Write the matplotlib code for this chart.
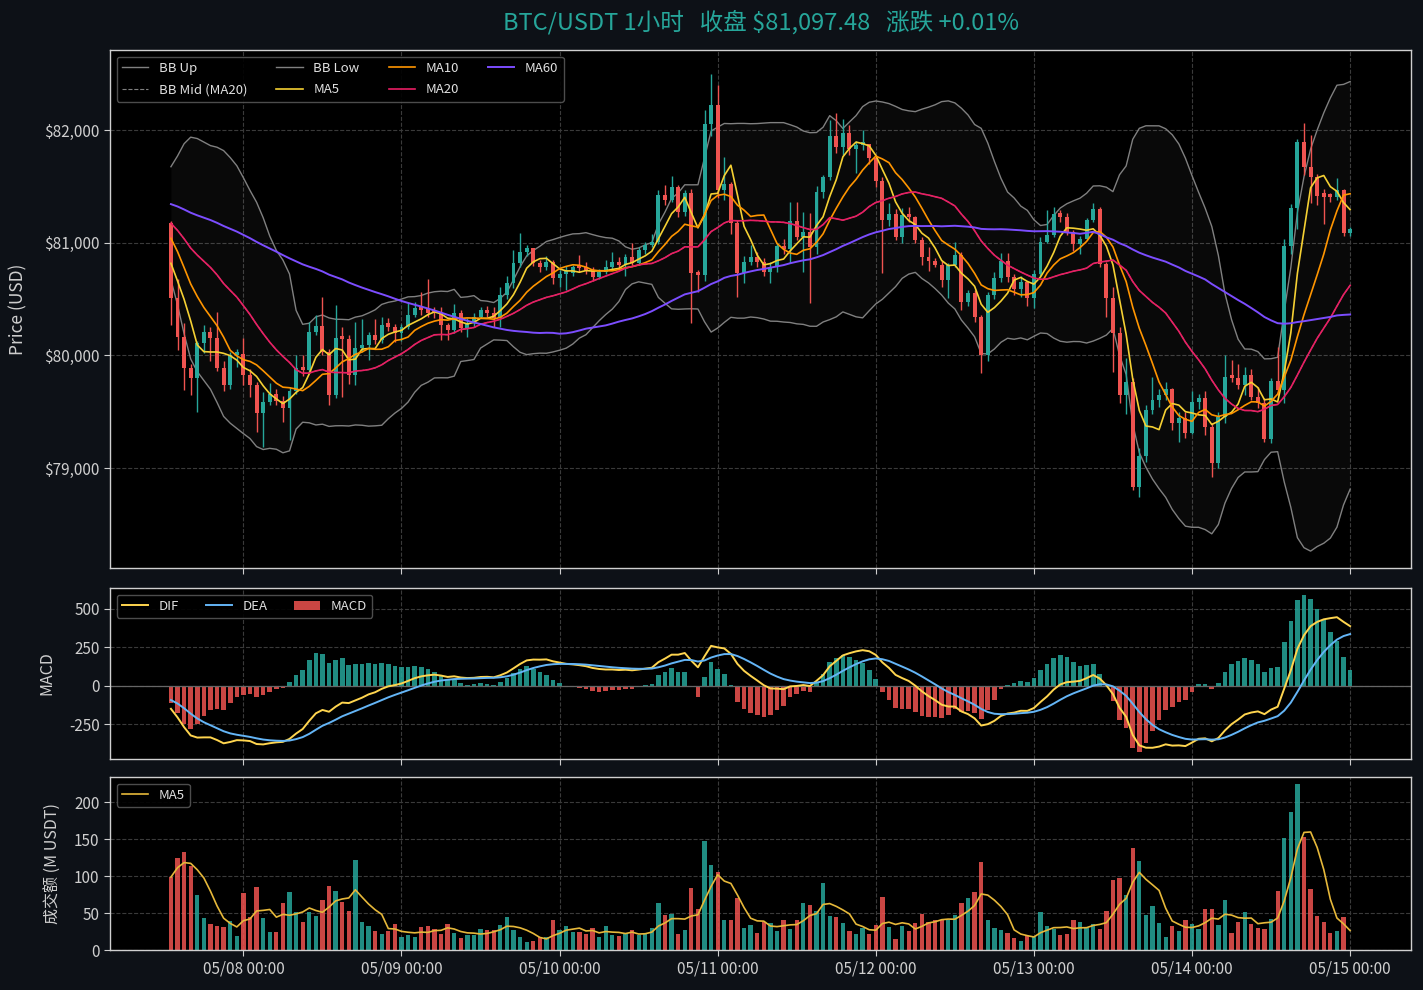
import matplotlib
matplotlib.use("Agg")
import matplotlib.pyplot as plt
import matplotlib.dates as mdates
from matplotlib.ticker import FuncFormatter, MultipleLocator
import numpy as np
import pandas as pd

plt.rcParams['font.family'] = ['Noto Sans CJK SC', 'DejaVu Sans']
plt.rcParams['axes.unicode_minus'] = False

# closes before the first visible candle (only used to warm up MA / BB / MACD)
warmup_close = [81350, 81420, 81480, 81530, 81500, 81460, 81400, 81380, 81420, 81470,
                81520, 81560, 81510, 81450, 81400, 81350, 81320, 81360, 81410, 81460,
                81500, 81470, 81420, 81380, 81350, 81390, 81440, 81480, 81450, 81400,
                81370, 81340, 81380, 81430, 81470, 81440, 81400, 81360, 81390, 81430,
                81400,
                81420, 81380, 81450, 81350, 81300, 81250, 81200, 81280, 81220, 81200,
                81350, 81300, 81250, 81220, 81185,
                80950, 80700, 80756,
                81172]

# 1h candles, 05/07 13:00 -> 05/15 00:00
close = [80506, 80166, 79885, 79797, 80107, 80210, 80150, 79885, 79737, 80003,
         80012, 79826, 79737, 79486, 79589, 79657, 79598, 79530, 79687, 79885,
         79870, 80210, 80261, 80033, 79649, 80151, 80143, 79826, 80063, 80092,
         80181, 80137, 80270, 80255, 80196, 80249, 80358, 80418, 80400, 80380,
         80373, 80270, 80225, 80373, 80240, 80284, 80344, 80403, 80373, 80329,
         80536, 80639, 80817, 80920, 80955, 80817, 80781, 80832, 80684, 80722,
         80728, 80781, 80773, 80758, 80699, 80743, 80781, 80832, 80802, 80876,
         80823, 80935, 80980, 81009, 81423, 81379, 81497, 81275, 81438, 80734,
         80713, 82053, 82222, 81468, 81521, 81172, 80734, 80832, 80876, 80832,
         80743, 80787, 80970, 80941, 81195, 81054, 81098, 80959, 81453, 81586,
         81947, 81852, 81970, 81828, 81867, 81880, 81749, 81550, 81201, 81255,
         81054, 81246, 81225, 81024, 80870, 80840, 80805, 80669, 80802, 80891,
         80477, 80551, 80344, 80003, 80536, 80684, 80841, 80693, 80586, 80654,
         80506, 80722, 81009, 81068, 81255, 81231, 81098, 80990, 81030, 81201,
         81296, 80811, 80506, 80202, 79648, 79767, 78829, 79107, 79515, 79604,
         79648, 79699, 79397, 79442, 79314, 79589, 79619, 79368, 79042, 79456,
         79811, 79796, 79737, 79826, 79634, 79575, 79255, 79776, 79693, 80971,
         81305, 81897, 81675, 81586, 81414, 81408, 81403, 81468, 81089, 81097.48]

high = [81190, 80680, 80285, 79920, 80130, 80270, 80250, 80388, 79950, 80030,
        80060, 80151, 79880, 79760, 79678, 79752, 79700, 79640, 79720, 80003,
        80003, 80300, 80360, 80515, 80060, 80447, 80250, 80180, 80300, 80320,
        80210, 80320, 80340, 80330, 80280, 80280, 80475, 80475, 80560, 80675,
        80430, 80430, 80290, 80460, 80400, 80330, 80380, 80430, 80440, 80430,
        80610, 80700, 80935, 81090, 80980, 80950, 80850, 80880, 80850, 80760,
        80790, 80800, 80890, 80830, 80780, 80770, 80850, 80920, 80870, 80900,
        81000, 80960, 81010, 81080, 81470, 81510, 81590, 81510, 81470, 81480,
        80760, 82180, 82497, 82400, 81760, 81540, 81200, 80880, 80980, 80920,
        80860, 80830, 81000, 81030, 81360, 81360, 81270, 81260, 81500, 81600,
        82090, 82150, 82100, 82040, 81900, 82000, 81870, 81780, 81580, 81350,
        81300, 81310, 81320, 81240, 81050, 80960, 80860, 80840, 80820, 81010,
        80920, 80580, 80580, 80360, 80560, 80740, 80905, 80905, 80720, 80700,
        80660, 80760, 81050, 81290, 81320, 81290, 81260, 81110, 81060, 81220,
        81350, 81320, 80830, 80610, 80250, 79980, 79800, 79180, 79560, 79811,
        79700, 79760, 79710, 79500, 79500, 79680, 79660, 79680, 79400, 79500,
        80004, 79960, 79920, 79900, 79880, 79720, 79620, 79800, 80077, 81030,
        81343, 81918, 82059, 81955, 81610, 81480, 81440, 81570, 81480, 81140]

low = [80270, 80048, 79693, 79650, 79500, 80020, 79950, 79860, 79680, 79700,
       79900, 79737, 79634, 79323, 79190, 79560, 79560, 79412, 79249, 79660,
       79820, 79850, 80180, 80000, 79560, 79620, 79630, 79750, 79740, 80030,
       79960, 80100, 80110, 80220, 80120, 80130, 80230, 80340, 80360, 80340,
       80330, 80140, 80140, 80200, 80210, 80160, 80250, 80330, 80340, 80250,
       80250, 80500, 80600, 80780, 80880, 80790, 80740, 80760, 80630, 80610,
       80580, 80700, 80740, 80720, 80660, 80680, 80720, 80760, 80770, 80700,
       80800, 80800, 80900, 80960, 80990, 81330, 81360, 81230, 81240, 80284,
       80560, 80660, 81950, 81400, 81380, 81080, 80520, 80640, 80800, 80780,
       80700, 80640, 80740, 80900, 80820, 81020, 80740, 80462, 80900, 81400,
       81560, 81800, 81780, 81780, 81620, 81820, 81700, 81490, 80728, 81150,
       81020, 81000, 81180, 81000, 80800, 80750, 80780, 80610, 80510, 80780,
       80400, 80440, 80300, 79841, 79950, 80500, 80650, 80650, 80540, 80520,
       80440, 80420, 80700, 81000, 81050, 81180, 81070, 80930, 80900, 81020,
       81180, 80780, 80340, 79856, 79575, 79480, 78805, 78746, 79050, 79480,
       79540, 79600, 79340, 79234, 79270, 79300, 79520, 79290, 78924, 79000,
       79400, 79760, 79700, 79650, 79600, 79530, 79230, 79220, 79650, 79575,
       80900, 81120, 81600, 81350, 81330, 81170, 81360, 81380, 81060, 81060]

# quote volume, million USDT
volume = [98.6, 124, 132, 114, 74, 43, 35, 32, 31, 39,
          19, 77, 44, 85, 43, 25, 25, 63, 79, 52,
          38, 52, 46, 67, 87, 80, 65, 53, 122, 38,
          33, 26, 22, 26, 35, 17, 20, 18, 31, 33,
          29, 22, 35, 23, 16, 20, 20, 29, 27, 27,
          34, 44, 27, 18, 11, 12, 17, 17, 40, 27,
          33, 24, 24, 21, 30, 17, 33, 20, 19, 22,
          27, 20, 22, 30, 63, 48, 49, 22, 27, 84,
          56, 148, 115, 106, 41, 40, 70, 30, 34, 23,
          38, 37, 26, 40, 29, 40, 63, 61, 53, 91,
          46, 44, 37, 26, 22, 30, 22, 34, 71, 31,
          15, 33, 26, 37, 49, 38, 41, 40, 41, 48,
          64, 70, 78, 119, 40, 30, 27, 23, 16, 12,
          19, 18, 52, 33, 29, 20, 22, 41, 38, 30,
          35, 29, 53, 95, 97, 75, 138, 120, 48, 60,
          37, 18, 33, 26, 40, 35, 29, 55, 56, 34,
          68, 23, 38, 52, 35, 30, 29, 42, 80, 151,
          187, 224, 153, 83, 46, 38, 23, 26, 44, 0.3]

close = np.array(close, dtype=float)
high = np.array(high, dtype=float)
low = np.array(low, dtype=float)
volume = np.array(volume, dtype=float)
opens = np.r_[warmup_close[-1], close[:-1]]

times = pd.date_range('2025-05-07 13:00', periods=len(close), freq='h')
x = mdates.date2num(times)
hr = 1 / 24

# indicators
allc = pd.Series(np.r_[warmup_close, close])
n0 = len(warmup_close)
ma = {k: allc.rolling(k).mean().values[n0:] for k in (5, 10, 20, 60)}
sd20 = allc.rolling(20).std().values[n0:]
bb_up = ma[20] + 2 * sd20
bb_low = ma[20] - 2 * sd20
dif = allc.ewm(span=12, adjust=False).mean() - allc.ewm(span=26, adjust=False).mean()
dea = dif.ewm(span=9, adjust=False).mean()
macd = (2 * (dif - dea)).values[n0:]
dif = dif.values[n0:]
dea = dea.values[n0:]
vol_ma5 = pd.Series(volume).rolling(5, min_periods=1).mean().values

UP = '#26a69a'
DN = '#ef5350'
BG = '#0d1117'
TXT = '#cfcfcf'
GRID = '#3a3a3a'
legkw = dict(fontsize=9.5, facecolor='black', edgecolor='#555555',
             labelcolor='#e0e0e0', framealpha=0.9, labelspacing=0.65)

fig = plt.figure(figsize=(14.23, 9.9), dpi=100, facecolor=BG)
ax1 = fig.add_axes([0.0773, 0.4263, 0.9143, 0.5232])
ax2 = fig.add_axes([0.0773, 0.2333, 0.9143, 0.1728], sharex=ax1)
ax3 = fig.add_axes([0.0773, 0.0404, 0.9143, 0.1748], sharex=ax1)

for ax in (ax1, ax2, ax3):
    ax.set_facecolor('black')
    for s in ax.spines.values():
        s.set_color('#d0d0d0')
        s.set_linewidth(1)
    ax.tick_params(colors=TXT, labelsize=11, length=4)
    ax.grid(True, color=GRID, linestyle='--', linewidth=0.8)
    ax.set_axisbelow(True)

# price panel
ax1.fill_between(x, bb_low, bb_up, color='white', alpha=0.04, linewidth=0)
ax1.plot(x, bb_up, color='#808080', lw=1, label='BB Up')
ax1.plot(x, ma[20], color='#808080', lw=0.8, ls='--', label='BB Mid (MA20)')
ax1.plot(x, bb_low, color='#808080', lw=1, label='BB Low')

cols = np.where(close >= opens, UP, DN)
ax1.vlines(x, low, high, colors=cols, linewidth=1, zorder=3)
body = np.maximum(np.abs(close - opens), 30)
ax1.bar(x, body, bottom=np.minimum(close, opens), width=0.6 * hr, color=cols,
        linewidth=0, zorder=4)

ax1.plot(x, ma[5], color='#f5d033', lw=1.2, label='MA5', zorder=5)
ax1.plot(x, ma[10], color='#ff9500', lw=1.2, label='MA10', zorder=5)
ax1.plot(x, ma[20], color='#e91e63', lw=1.2, label='MA20', zorder=5)
ax1.plot(x, ma[60], color='#7c4dff', lw=1.4, label='MA60', zorder=5)

ax1.set_ylim(78113, 82710)
ax1.yaxis.set_major_locator(MultipleLocator(1000))
ax1.yaxis.set_major_formatter(FuncFormatter(lambda v, p: f'${v:,.0f}'))
ax1.set_ylabel('Price (USD)', color=TXT, fontsize=12.5, labelpad=12)
ax1.legend(loc='upper left', ncol=4, columnspacing=2.2, **legkw)
ax1.set_title('BTC/USDT 1小时   收盘 $81,097.48   涨跌 +0.01%', color=UP,
              fontsize=17, pad=15)

# MACD panel
hcols = np.where(macd >= 0, UP, DN)
ax2.bar(x, macd, width=0.7 * hr, color=hcols, alpha=0.85, linewidth=0, label='MACD')
ax2.axhline(0, color='#666666', lw=0.9)
ax2.plot(x, dif, color='#ffd54f', lw=1.4, label='DIF')
ax2.plot(x, dea, color='#64b5f6', lw=1.4, label='DEA')
ax2.set_ylim(-477, 636)
ax2.set_yticks([-250, 0, 250, 500])
ax2.set_ylabel('MACD', color=TXT, fontsize=11.5, labelpad=10)
ax2.legend(loc='upper left', ncol=3, **legkw)

# volume panel
ax3.bar(x, volume, width=0.65 * hr, color=cols, alpha=0.85, linewidth=0)
ax3.plot(x, vol_ma5, color='#e6b83a', lw=1.2, label='MA5')
ax3.set_ylim(0, 234)
ax3.yaxis.set_major_locator(MultipleLocator(50))
ax3.set_ylabel('成交额 (M USDT)', color=TXT, fontsize=11.5, labelpad=9)
ax3.legend(loc='upper left', **legkw)

ax3.set_xlim(x[0] - 9.25 * hr, x[-1] + 9.25 * hr)
ax3.xaxis.set_major_locator(mdates.DayLocator())
ax3.xaxis.set_major_formatter(mdates.DateFormatter('%m/%d %H:%M'))
plt.setp(ax1.get_xticklabels(), visible=False)
plt.setp(ax2.get_xticklabels(), visible=False)

fig.savefig('out.png', dpi=100, facecolor=BG)
